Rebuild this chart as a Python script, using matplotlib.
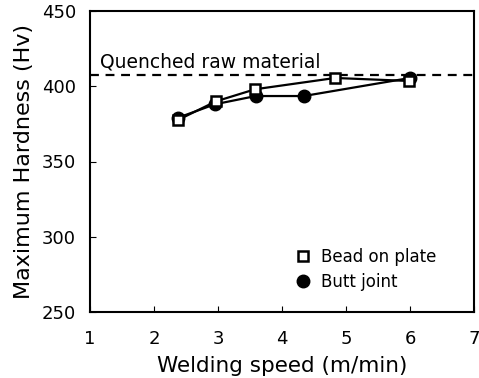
import numpy as np
import matplotlib
matplotlib.use("Agg")
import matplotlib.pyplot as plt

plt.rcParams['font.family'] = ['DejaVu Sans']

# data
bead_x = [2.37, 2.97, 3.58, 4.83, 5.99]
bead_y = [377.5, 390, 398, 405.5, 403.5]
butt_x = [2.37, 2.95, 3.59, 4.34, 6.0]
butt_y = [379, 388, 393.5, 393.5, 405.5]
quenched = 407.5

fig = plt.figure(figsize=(4.79, 3.78), dpi=100)
ax = fig.add_axes([90/479, 1-312/378, 384/479, 301/378])

ax.axhline(quenched, color='black', ls=(0, (4, 3)), lw=1.6, zorder=1)
ax.text(1.15, quenched + 2.5, 'Quenched raw material', fontsize=13.5, va='bottom')

ax.plot(butt_x, butt_y, '-o', color='black', lw=1.6, ms=9, mfc='black',
        label='Butt joint', zorder=2)
ax.plot(bead_x, bead_y, '-s', color='black', lw=1.6, ms=7, mfc='white',
        mew=1.8, label='Bead on plate', zorder=3)

ax.set_xlim(1, 7)
ax.set_ylim(250, 450)
ax.set_xticks(range(1, 8))
ax.set_yticks(range(250, 451, 50))
ax.tick_params(direction='in', length=4, labelsize=13, width=0.8)
ax.tick_params(axis='x', pad=13)
ax.tick_params(axis='y', pad=10)
for s in ax.spines.values():
    s.set_linewidth(1.5)

ax.set_xlabel('Welding speed (m/min)', fontsize=15.5)
ax.xaxis.set_label_coords(0.5, -0.145)
ax.xaxis.label.set_va('top')
ax.set_ylabel('Maximum Hardness (Hv)', fontsize=16, labelpad=6)

h, l = ax.get_legend_handles_labels()
ax.legend(h[::-1], l[::-1], loc='lower left', bbox_to_anchor=(0.49, 0.02),
          frameon=False, fontsize=12, handletextpad=0.5, labelspacing=0.4,
          handlelength=1.2)
leg = ax.get_legend()
for line in leg.get_lines():
    line.set_linestyle('none')

fig.savefig('out.png', dpi=100)
